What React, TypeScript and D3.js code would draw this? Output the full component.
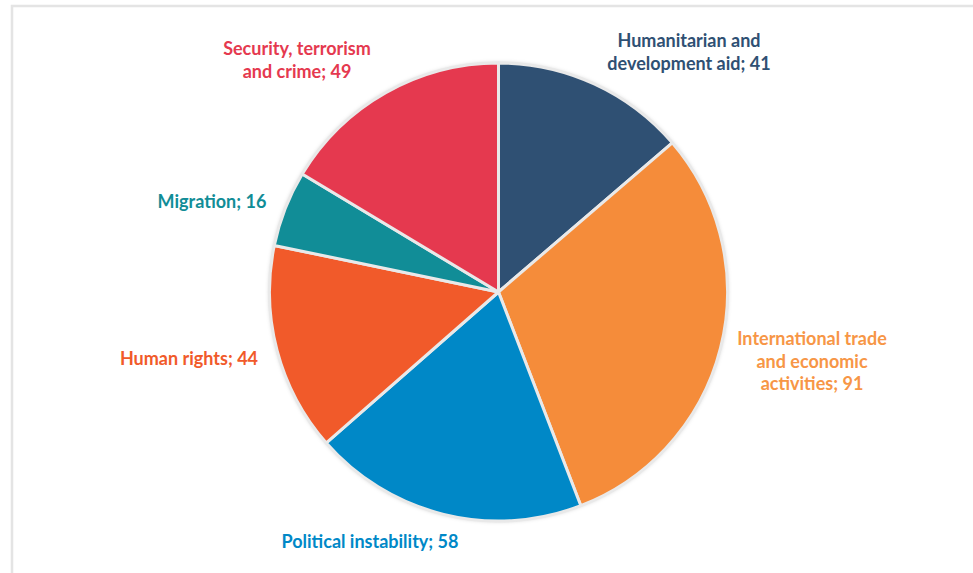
import React from "react";
import * as d3 from "d3";

const categories = [
  "Humanitarian and development aid",
  "International trade and economic activities",
  "Political instability",
  "Human rights",
  "Migration",
  "Security, terrorism and crime",
];
const values = [41, 91, 58, 44, 16, 49];
const colors = ["#2F5073", "#F58C3A", "#0088C7", "#F15A2A", "#118D97", "#E5394F"];
const labelLines = [
  ["Humanitarian  and", "development aid; 41"],
  ["International trade", "and economic", "activities; 91"],
  ["Political instability; 58"],
  ["Human rights; 44"],
  ["Migration; 16"],
  ["Security, terrorism", "and crime; 49"],
];
const labelPos: [number, number][] = [
  [689, 40],
  [812, 338],
  [370, 541],
  [189, 358],
  [212, 201],
  [297, 48],
];

export default function App() {
  const W = 973, H = 573;
  const cx = 498.5, cy = 292, r = 229;
  const data = categories.map((c, i) => ({ c, v: values[i], i }));
  const pie = d3.pie<any>().sort(null).value((d) => d.v);
  const arcs = pie(data);
  const arc = d3.arc<any>().innerRadius(0).outerRadius(r);
  return (
    <svg width={W} height={H} style={{ position: "absolute", left: 0, top: 0 }}>
      <defs>
        <filter id="sh" x="-10%" y="-10%" width="120%" height="120%">
          <feDropShadow dx="0" dy="0" stdDeviation="2" floodColor="#000" floodOpacity="0.25" />
        </filter>
      </defs>
      <rect x={0} y={0} width={W} height={H} fill="#fff" />
      <rect x={12} y={6} width={W + 20} height={H + 20} fill="#fff" stroke="#e4e4e4" strokeWidth={2.5} />
      <g transform={`translate(${cx},${cy})`}>
        <circle r={r} fill="#ddd" filter="url(#sh)" />
        {arcs.map((a, k) => (
          <path key={k} d={arc(a) as string} fill={colors[a.data.i]} stroke="#e9e9e9" strokeWidth={3} strokeLinejoin="round" />
        ))}
      </g>
      {labelLines.map((lines, i) => (
        <text
          key={i}
          x={labelPos[i][0]}
          y={labelPos[i][1]}
          textAnchor="middle"
          dominantBaseline="central"
          fontFamily="Lato, 'Open Sans', sans-serif"
          fontWeight={700}
          fontSize={18}
          fill={i === 1 ? "#F79646" : colors[i]}
        >
          {lines.map((l, j) => (
            <tspan key={j} x={labelPos[i][0]} dy={j === 0 ? 0 : 22.5}>
              {l}
            </tspan>
          ))}
        </text>
      ))}
    </svg>
  );
}
